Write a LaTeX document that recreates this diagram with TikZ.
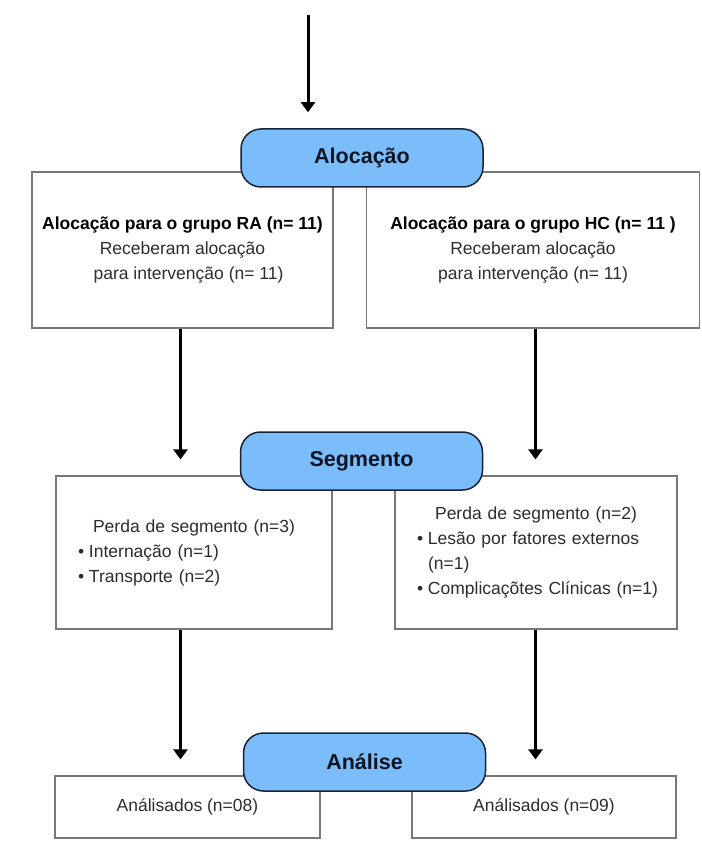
\documentclass[tikz,border=0pt]{standalone}
\usepackage{fontspec}
\setmainfont{Liberation Sans}
\usetikzlibrary{arrows.meta, positioning}
\definecolor{pillcolor}{RGB}{122,189,250}
\definecolor{pilledge}{RGB}{25,35,55}
\definecolor{pilltext}{RGB}{15,20,35}
\definecolor{boxedge}{RGB}{120,120,120}
\definecolor{bodytext}{RGB}{45,45,45}
\newcommand{\bitem}[1]{\par\hangindent=11pt\hangafter=1\noindent\makebox[11pt][l]{\textbullet}#1}

\begin{document}
\begin{tikzpicture}[x=1pt, y=-1pt,
    pill/.style={draw=pilledge, line width=1.5pt, fill=pillcolor, rounded corners=20pt, minimum width=242pt, minimum height=58pt, inner sep=0pt, font=\bfseries\fontsize{21.5}{26}\selectfont, text=pilltext},
    group/.style={draw=boxedge, line width=1.2pt, fill=white, inner sep=0pt, font=\fontsize{17.5}{25}\selectfont, text=bodytext},
    flow/.style={-{Triangle[length=10pt, width=14pt]}, line width=3pt, shorten >=16pt}]
    \useasboundingbox (0,0) rectangle (701,850);

    % Allocation groups
    \node[group, align=center, minimum width=301pt, minimum height=156pt] (ra) at (182.5,250)
        {\textcolor{black}{\textbf{Alocação para o grupo RA (n= 11)}}\\Receberam alocação\\\hspace*{12pt}para intervenção (n= 11)};
    \node[group, align=center, minimum width=333pt, minimum height=156pt] (hc) at (533,250)
        {\textcolor{black}{\textbf{Alocação para o grupo HC (n= 11 )}}\\Receberam alocação\\para intervenção (n= 11)};
    \node[pill] (aloc) at (362,158) {Alocação};

    % Follow-up losses
    \node[group, align=left, inner xsep=22pt, text width=232pt, minimum width=276pt, minimum height=153pt] (perdaRA) at (194,552.5)
        {{\centering Perda de segmento (n=3)\par}
         \bitem{Internação (n=1)}
         \bitem{Transporte (n=2)}};
    \node[group, align=left, inner xsep=22pt, text width=238pt, minimum width=282pt, minimum height=153pt] (perdaHC) at (536,552.5)
        {{\centering Perda de segmento (n=2)\par}
         \bitem{Lesão por fatores externos\newline(n=1)}
         \bitem{\mbox{Complicaçõtes Clínicas (n=1)}}};
    \node[pill] (seg) at (361.5,461) {Segmento};

    % Analysis
    \node[group, minimum width=265pt, minimum height=62pt] (analRA) at (187.5,807) {Análisados (n=08)};
    \node[group, minimum width=264pt, minimum height=62pt] (analHC) at (544,807) {Análisados (n=09)};
    \node[pill] (anal) at (364.5,762) {Análise};

    % Arrows
    \coordinate (entry) at (308,15);
    \coordinate (colL) at (180.5,0);
    \coordinate (colR) at (535.5,0);
    \draw[flow] (entry) -- (entry |- aloc.north);
    \draw[flow] (ra.south -| colL) -- (perdaRA.north -| colL);
    \draw[flow] (hc.south -| colR) -- (perdaHC.north -| colR);
    \draw[flow] (perdaRA.south -| colL) -- (analRA.north -| colL);
    \draw[flow] (perdaHC.south -| colR) -- (analHC.north -| colR);
\end{tikzpicture}
\end{document}
